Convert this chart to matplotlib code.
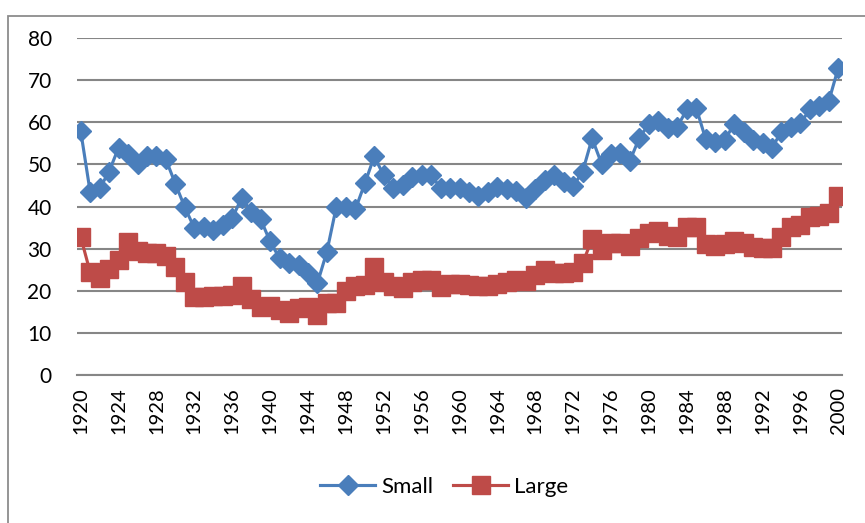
import numpy as np
import matplotlib.pyplot as plt
from matplotlib.patches import Rectangle

# Yearly series, 1920-2000
years = np.arange(1920, 2001)

small = [58.0, 43.5, 44.3, 48.3, 54.0, 52.5, 50.0, 52.0, 52.0, 51.2,
         45.4, 39.8, 34.9, 35.2, 34.5, 35.5, 37.2, 42.1, 38.8, 37.0,
         31.7, 27.7, 26.5, 26.0, 24.1, 21.8, 29.3, 40.0, 40.0, 39.3,
         45.5, 51.9, 47.4, 44.3, 45.1, 47.1, 47.4, 47.4, 44.5, 44.5,
         44.3, 43.5, 42.6, 43.5, 44.6, 44.1, 43.8, 42.1, 44.1, 46.2,
         47.5, 45.8, 44.8, 48.3, 56.2, 50.2, 52.4, 52.7, 50.9, 56.4,
         59.6, 60.4, 58.6, 58.9, 63.1, 63.4, 56.0, 55.3, 55.8, 59.6,
         57.8, 55.8, 55.0, 54.0, 57.8, 59.0, 59.8, 63.1, 63.9, 65.1,
         73.0]

large = [32.8, 24.4, 22.9, 25.2, 27.3, 31.5, 29.5, 28.9, 29.0, 28.3,
         25.7, 22.1, 18.6, 18.6, 18.7, 18.8, 19.0, 21.1, 18.0, 16.2,
         16.4, 15.4, 14.8, 16.0, 16.2, 14.2, 17.1, 17.0, 19.9, 21.0,
         21.3, 25.6, 22.0, 21.1, 20.7, 22.1, 22.5, 22.5, 20.8, 21.6,
         21.5, 21.4, 21.0, 21.0, 21.6, 22.0, 22.5, 22.4, 23.7, 24.9,
         24.3, 24.1, 24.4, 26.5, 32.3, 29.7, 31.3, 31.3, 30.7, 32.5,
         33.8, 34.2, 33.0, 32.7, 35.2, 35.2, 31.0, 30.6, 31.0, 31.8,
         31.3, 30.5, 30.1, 30.1, 32.7, 35.1, 35.5, 37.5, 37.8, 38.5,
         42.4]

tick_years = np.arange(1920, 2001, 4)
yticks = np.arange(0, 81, 10)

blue = '#4A7EBB'
red = '#BE4B48'
grid_col = '#868686'
font = ['Lato', 'DejaVu Sans']

fig = plt.figure(figsize=(8.65, 5.23), dpi=100)
W, H = 865, 523
ax = fig.add_axes([76.7 / W, 1 - 374.8 / H, (842.3 - 76.7) / W, (374.8 - 38.3) / H])

# chart area border, running off the right and bottom edges
fig.patches.append(Rectangle((8 / W, -0.1), 1.2, 1 - 16.5 / H + 0.1,
                             transform=fig.transFigure, fill=False,
                             edgecolor='#8c8c8c', linewidth=1.3))

ax.plot(years, small, color=blue, lw=2.25, marker='D', ms=10.5,
        mec=blue, mfc=blue, label='Small', zorder=3)
ax.plot(years, large, color=red, lw=2.25, marker='s', ms=12.5,
        mec=red, mfc=red, label='Large', zorder=2)

ax.set_xlim(1919.58, 2000.42)
ax.set_ylim(0, 80)
ax.set_yticks(yticks)
ax.set_xticks(tick_years)
ax.set_xticklabels([str(y) for y in tick_years], rotation=90,
                   family=font, fontsize=14.5)
ax.set_yticklabels([str(v) for v in yticks], family=font, fontsize=15)
ax.tick_params(axis='both', length=0)
ax.tick_params(axis='y', pad=18)
ax.tick_params(axis='x', pad=9)

ax.grid(axis='y', color=grid_col, lw=1.5)
ax.set_axisbelow(True)
for side in ['top', 'right', 'left']:
    ax.spines[side].set_visible(False)
ax.spines['bottom'].set_color(grid_col)
ax.spines['bottom'].set_linewidth(1.5)

leg = fig.legend(loc='center', bbox_to_anchor=(444 / W, 1 - 487 / H),
                 ncol=2, frameon=False, prop={'family': font, 'size': 16},
                 handlelength=2.5, columnspacing=0.9, handletextpad=0.25)

fig.savefig('out.png', dpi=100)
